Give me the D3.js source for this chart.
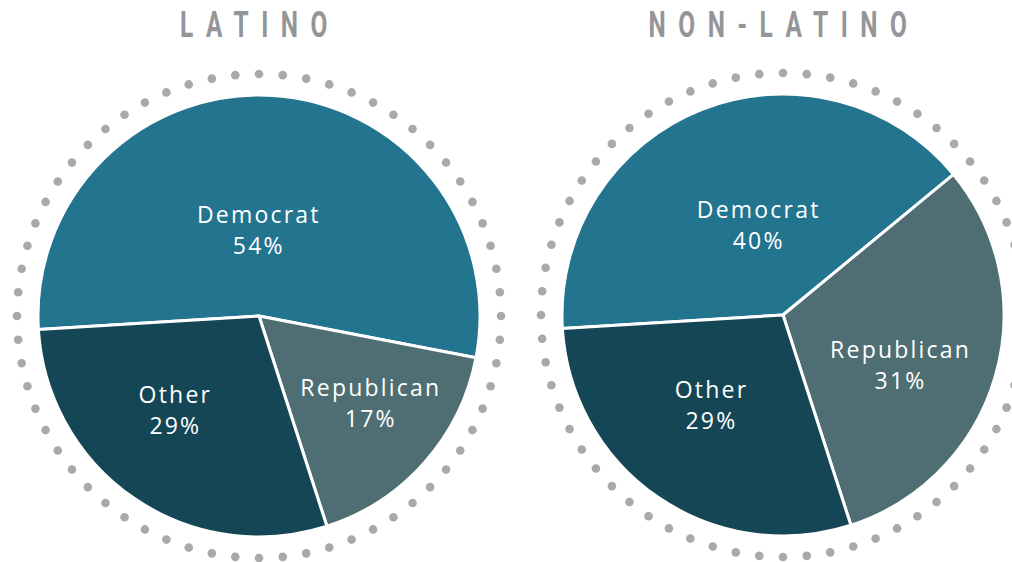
<!DOCTYPE html>
<html>
<head>
<meta charset="utf-8">
<script src="https://cdn.jsdelivr.net/npm/d3@7"></script>
<style>
  body { margin: 0; background: #fff; }
  .title { font-family: Roboto, "DejaVu Sans", sans-serif; font-weight: 700; fill: #939598; }
  .lbl { font-family: "Open Sans", sans-serif; fill: #fff; }
</style>
</head>
<body>
<div id="chart"></div>
<script>
// DATA
const categories = ['Democrat', 'Republican', 'Other'];
const latinoValues = [54, 17, 29];
const nonLatinoValues = [40, 31, 29];
const groupTitles = ['LATINO', 'NON-LATINO'];

// STYLE / LAYOUT
const width = 1012, height = 562;
const colors = { Democrat: '#23748f', Republican: '#4e6e73', Other: '#154656' };
// label placement per pie: [angle shift from slice middle (deg), distance from centre]
const labelPlacement = [
  { Democrat: [-4.5, 86], Republican: [-3.3, 141], Other: [7.5, 127] },
  { Democrat: [5.7, 93], Republican: [7.1, 127], Other: [4.4, 116] }
];
const radius = 221, ringRadius = 242, dotCount = 64;
const centers = [[259, 316], [783, 315]];

const svg = d3.select('#chart')
  .append('svg')
  .attr('width', width)
  .attr('height', height);

const pie = d3.pie()
  .sort(null)
  .value(d => d.value)
  .startAngle(-93.5 * Math.PI / 180)
  .endAngle(266.5 * Math.PI / 180);

const arc = d3.arc().innerRadius(0).outerRadius(radius);

[latinoValues, nonLatinoValues].forEach((values, i) => {
  const data = categories.map((c, j) => ({ name: c, value: values[j] }));
  const g = svg.append('g')
    .attr('transform', `translate(${centers[i][0]}, ${centers[i][1]})`);

  // dotted ring
  g.selectAll('circle.dot')
    .data(d3.range(dotCount))
    .enter()
    .append('circle')
      .attr('class', 'dot')
      .attr('cx', k => ringRadius * Math.sin(2 * Math.PI * k / dotCount))
      .attr('cy', k => -ringRadius * Math.cos(2 * Math.PI * k / dotCount))
      .attr('r', 4.3)
      .attr('fill', '#a8a9ac');

  const arcs = pie(data);

  g.selectAll('path')
    .data(arcs)
    .enter()
    .append('path')
      .attr('d', arc)
      .attr('fill', d => colors[d.data.name])
      .attr('stroke', '#fff')
      .attr('stroke-width', 3)
      .attr('stroke-linejoin', 'round');

  const lbl = g.selectAll('text.lbl')
    .data(arcs)
    .enter()
    .append('text')
      .attr('class', 'lbl')
      .attr('text-anchor', 'middle')
      .attr('font-size', 23)
      .attr('letter-spacing', 2.2)
      .attr('transform', d => {
        const p = labelPlacement[i][d.data.name];
        const a = (d.startAngle + d.endAngle) / 2 + p[0] * Math.PI / 180;
        return `translate(${p[1] * Math.sin(a)}, ${-p[1] * Math.cos(a)})`;
      });

  lbl.append('tspan')
    .attr('x', 1)
    .attr('y', -7.5)
    .text(d => d.data.name);
  lbl.append('tspan')
    .attr('x', 1)
    .attr('y', 23.5)
    .text(d => d.data.value + '%');

  // TITLE
  svg.append('text')
    .attr('class', 'title')
    .attr('transform', `translate(${centers[i][0] + 1}, 37) scale(0.66, 1)`)
    .attr('text-anchor', 'middle')
    .attr('font-size', 37)
    .attr('letter-spacing', 19)
    .text(groupTitles[i]);
});
</script>
</body>
</html>
